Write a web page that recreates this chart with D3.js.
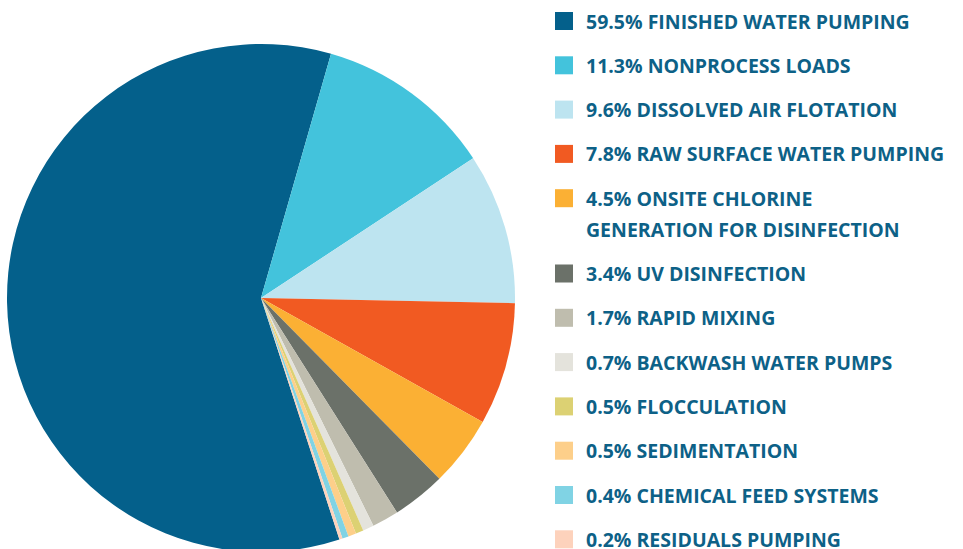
<!DOCTYPE html>
<html>
<head>
<meta charset="utf-8">
<script src="https://cdn.jsdelivr.net/npm/d3@7"></script>
<style>
  html, body { margin: 0; padding: 0; background: #fff; }
  svg { display: block; }
  .legend text { font-family: "Open Sans", sans-serif; font-weight: 700; font-size: 19.5px; fill: #0d6187; }
</style>
</head>
<body>
<svg id="chart" width="963" height="549"></svg>
<script>
// chart data
const labels = [
  'FINISHED WATER PUMPING',
  'NONPROCESS LOADS',
  'DISSOLVED AIR FLOTATION',
  'RAW SURFACE WATER PUMPING',
  'ONSITE CHLORINE|GENERATION FOR DISINFECTION',
  'UV DISINFECTION',
  'RAPID MIXING',
  'BACKWASH WATER PUMPS',
  'FLOCCULATION',
  'SEDIMENTATION',
  'CHEMICAL FEED SYSTEMS',
  'RESIDUALS PUMPING'
];
const values = [59.5, 11.3, 9.6, 7.8, 4.5, 3.4, 1.7, 0.7, 0.5, 0.5, 0.4, 0.2];
const colors = ['#04608b', '#43c3dc', '#bde4f0', '#f15a22', '#fbb034', '#6b7169',
                '#bfbdae', '#e4e3dc', '#dcd173', '#fdcf8a', '#80d3e4', '#fdd2bc'];

const svg = d3.select('#chart');
const cx = 261, cy = 298, r = 254;

// big slice ends at ~16deg from north, rest go clockwise after it
const endBig = 16 * Math.PI / 180;
const startAngle = endBig - values[0] / d3.sum(values) * 2 * Math.PI;

const pie = d3.pie().sort(null).value(d => d)
  .startAngle(startAngle).endAngle(startAngle + 2 * Math.PI);
const arc = d3.arc().innerRadius(0).outerRadius(r);

svg.append('g')
  .attr('transform', `translate(${cx},${cy})`)
  .selectAll('path')
  .data(pie(values))
  .join('path')
  .attr('d', arc)
  .attr('fill', (d, i) => colors[i]);

// legend
const leg = svg.append('g').attr('class', 'legend');
let y = 12;
labels.forEach(function(lab, i) {
  const lines = lab.split('|');
  const g = leg.append('g').attr('transform', `translate(555,${y})`);
  g.append('rect').attr('width', 18).attr('height', 18).attr('fill', colors[i]);
  lines.forEach(function(line, j) {
    g.append('text')
      .attr('x', 31)
      .attr('y', 16.5 + j * 31)
      .text((j == 0 ? values[i].toFixed(1) + '% ' : '') + line);
  });
  y += 44.3 + (lines.length - 1) * 31;
});
</script>
</body>
</html>
